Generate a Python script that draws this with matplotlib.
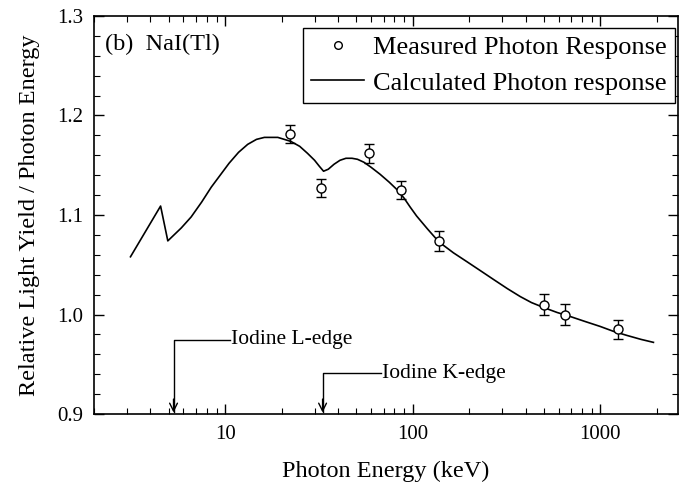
import matplotlib
matplotlib.use("Agg")
import matplotlib.pyplot as plt
from matplotlib.lines import Line2D
from matplotlib.ticker import LogLocator, MultipleLocator, FixedLocator, NullFormatter

plt.rcParams['font.family'] = ['Liberation Serif', 'DejaVu Serif']

# Calculated photon response curve
calc_energy = [3.13, 4.53, 4.95, 5.84, 6.59, 7.5, 8.44, 9.5, 10.5, 11.8, 13.2, 14.7, 16.2,
               19.1, 22.4, 25.0, 27.5, 30.0, 31.8, 33.5, 35.5, 38.1, 41.0, 44.1, 47.5,
               50.8, 55.0, 60.0, 67.0, 75.0, 82.0, 90.0, 97.0, 105.0, 120.0,
               138.0, 165.0, 195.0, 230.0, 271.0, 320.0, 375.0, 430.0, 500.0, 590.0,
               692.0, 830.0, 1000.0, 1180.0, 1387.0, 1650.0, 1923.0]
calc_response = [1.058, 1.109, 1.074, 1.087, 1.098, 1.113, 1.128, 1.141, 1.152, 1.163, 1.171,
                 1.176, 1.178, 1.178, 1.174, 1.169, 1.162, 1.155, 1.149, 1.144, 1.146, 1.151,
                 1.155, 1.157, 1.157, 1.156, 1.153, 1.148, 1.141, 1.133, 1.126, 1.117, 1.108,
                 1.099, 1.086, 1.073, 1.062, 1.053, 1.044, 1.035, 1.026, 1.018, 1.012, 1.007,
                 1.002, 0.998, 0.993, 0.988, 0.983, 0.979, 0.975, 0.972]

# Measured photon response
meas_energy = [22.2, 32.4, 58.6, 86.5, 139.0, 500.0, 653.0, 1245.0]
meas_response = [1.181, 1.127, 1.162, 1.125, 1.074, 1.010, 1.000, 0.985]
meas_error = [0.009, 0.009, 0.0095, 0.009, 0.010, 0.011, 0.011, 0.0095]

# Edge annotations
edge_labels = ['Iodine L-edge', 'Iodine K-edge']
edge_energy = [5.31, 33.1]
edge_level = [0.9744, 0.9409]
edge_text_x = [10.6, 67.6]

fig = plt.figure(figsize=(6.83, 4.90), dpi=100)
ax = fig.add_axes([94/683, (490-414)/490, (678-94)/683, (414-16)/490])

ax.plot(calc_energy, calc_response, color='black', lw=1.2, zorder=2)
ax.errorbar(meas_energy, meas_response, yerr=meas_error, fmt='o', mfc='white',
            mec='black', ms=6.5, mew=1.0, ecolor='black', elinewidth=1.0,
            capsize=3.8, capthick=1.0, zorder=3)

for lab, ex, ey, tx in zip(edge_labels, edge_energy, edge_level, edge_text_x):
    ax.plot([ex, ex, tx], [0.9025, ey, ey], color='black', lw=1.0)
    ax.annotate('', xy=(ex, 0.9015), xytext=(ex, 0.915),
                arrowprops=dict(arrowstyle='->', color='black', lw=1.0,
                                mutation_scale=14, shrinkA=0, shrinkB=0))
    ax.text(tx * 1.01, ey, lab, fontsize=15.5, va='center', ha='left')

ax.set_xscale('log')
ax.set_xlim(2.0, 2600)
ax.set_ylim(0.9, 1.3)
ax.xaxis.set_major_locator(FixedLocator([10, 100, 1000]))
ax.set_xticklabels(['10', '100', '1000'])
ax.xaxis.set_minor_locator(LogLocator(base=10, subs=[2, 3, 4, 5, 6, 7, 8, 9], numticks=20))
ax.xaxis.set_minor_formatter(NullFormatter())
ax.yaxis.set_major_locator(MultipleLocator(0.1))
ax.yaxis.set_minor_locator(MultipleLocator(0.02))
ax.yaxis.set_major_formatter(matplotlib.ticker.FormatStrFormatter('%.1f'))

ax.tick_params(which='both', direction='in', top=True, right=True, labelsize=15)
ax.tick_params(which='major', length=7, width=1.0, pad=8)
ax.tick_params(which='minor', length=4, width=0.8)
for s in ax.spines.values():
    s.set_linewidth(1.2)

ax.set_xlabel('Photon Energy (keV)', fontsize=17.5, labelpad=12)
ax.set_ylabel('Relative Light Yield / Photon Energy', fontsize=17.5, labelpad=12)

ax.text(0.018, 0.955, '(b)  NaI(Tl)', transform=ax.transAxes, fontsize=17.5,
        va='top', ha='left')

h_meas = Line2D([], [], ls='none', marker='o', mfc='white', mec='black', ms=5.5, mew=1.0)
h_calc = Line2D([], [], color='black', lw=1.2)
leg = ax.legend([h_meas, h_calc], ['Measured Photon Response', 'Calculated Photon response'],
                loc='upper right', bbox_to_anchor=(0.995, 0.97), borderaxespad=0,
                fontsize=19, frameon=True, fancybox=False, edgecolor='black',
                framealpha=1, handlelength=2.0, borderpad=0.3, labelspacing=0.45,
                handletextpad=0.35)
leg.get_frame().set_linewidth(1.0)

fig.savefig('out.png', dpi=100, facecolor='white')
